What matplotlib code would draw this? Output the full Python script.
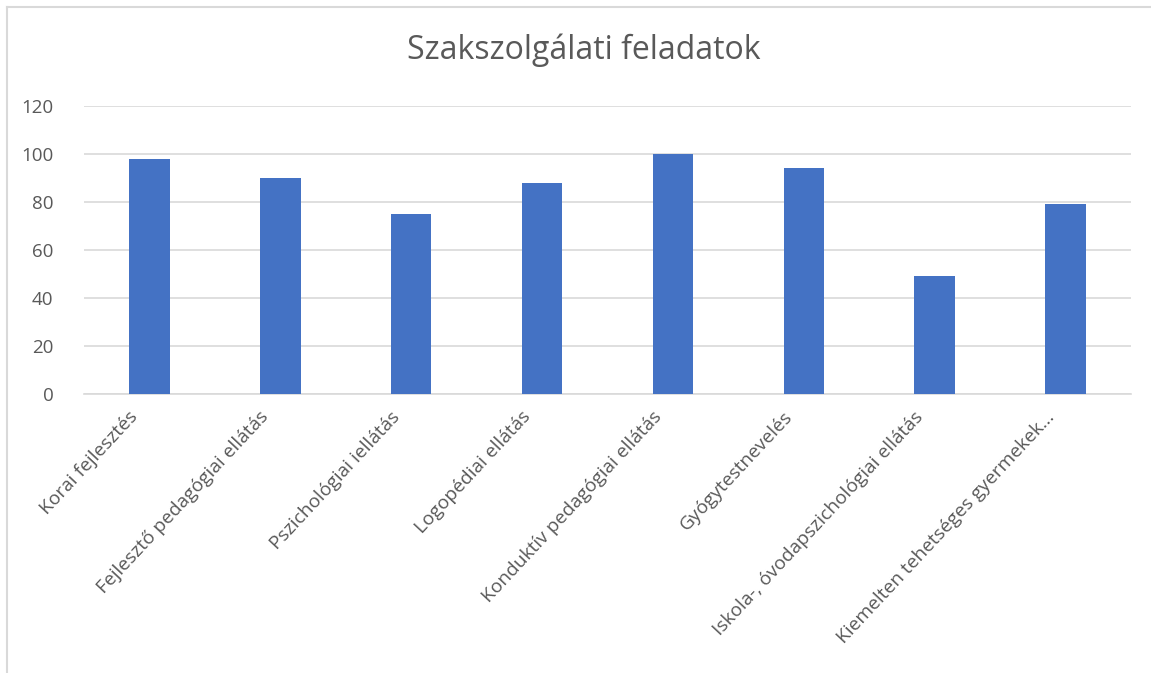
import matplotlib.pyplot as plt
from matplotlib.lines import Line2D
from matplotlib.transforms import ScaledTranslation

categories = [
    "Korai fejlesztés",
    "Fejlesztő pedagógiai ellátás",
    "Pszichológiai iellátás",
    "Logopédiai ellátás",
    "Konduktív pedagógiai ellátás",
    "Gyógytestnevelés",
    "Iskola-, óvodapszichológiai ellátás",
    "Kiemelten tehetséges gyermekek…",
]
values = [98, 90, 75, 88, 100, 94, 49, 79]
yticks = [0, 20, 40, 60, 80, 100, 120]

plt.rcParams['font.family'] = ['Open Sans', 'DejaVu Sans']
text_col = '#595959'
grid_col = '#D9D9D9'

fig = plt.figure(figsize=(11.51, 6.73), dpi=100)
ax = fig.add_axes([0.073, 0.4146, 0.9096, 0.4279])

x = list(range(len(categories)))
ax.bar(x, values, width=0.31, color='#4472C4', zorder=3)
ax.set_xlim(-0.5, len(categories) - 0.5)
ax.set_ylim(0, 120)
ax.set_yticks(yticks)
ax.set_yticklabels([str(t) for t in yticks], fontsize=13.5, color=text_col)
ax.set_xticks(x)
ax.set_xticklabels(categories, rotation=47, ha='right', rotation_mode='anchor',
                   fontsize=13.8, color=text_col)
ax.tick_params(axis='both', length=0)
ax.tick_params(axis='y', pad=22)
ax.tick_params(axis='x', pad=10)
shift = ScaledTranslation(-21 / 100, 0, fig.dpi_scale_trans)
for lab in ax.get_xticklabels():
    lab.set_transform(lab.get_transform() + shift)
ax.grid(axis='y', color=grid_col, linewidth=1.2, zorder=0)
for s in ['top', 'right', 'left']:
    ax.spines[s].set_visible(False)
ax.spines['bottom'].set_color(grid_col)
ax.spines['bottom'].set_linewidth(1.2)

fig.text(0.507, 0.925, "Szakszolgálati feladatok", ha='center', va='center',
         fontsize=23, color=text_col)

# outer chart border (only top and left visible)
fig.add_artist(Line2D([0.006, 0.006], [0.0, 0.99], color=grid_col, linewidth=1.5,
                      transform=fig.transFigure))
fig.add_artist(Line2D([0.006, 1.0], [0.99, 0.99], color=grid_col, linewidth=1.5,
                      transform=fig.transFigure))

fig.savefig("out.png", dpi=100)
